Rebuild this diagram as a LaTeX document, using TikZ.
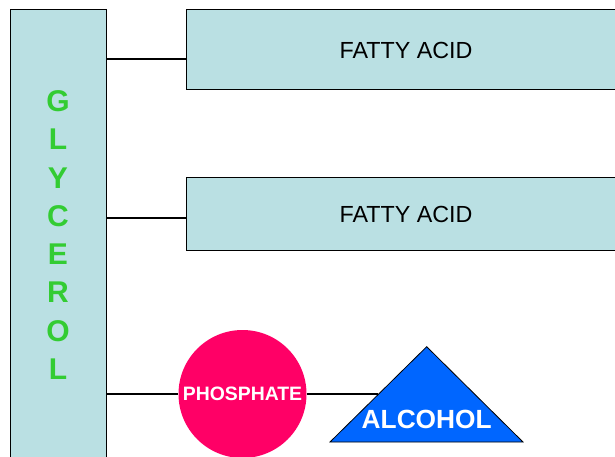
\documentclass[tikz,border=0pt]{standalone}
\usepackage{fontspec}
\setmainfont{Liberation Sans}
\usetikzlibrary{calc}
\definecolor{boxfill}{RGB}{186,224,227}
\definecolor{glygreen}{RGB}{51,204,51}
\definecolor{phospink}{RGB}{255,0,102}
\definecolor{alcblue}{RGB}{0,102,255}
\tikzset{
    barbox/.style={draw, fill=boxfill, line width=1pt, inner sep=0pt},
    fabox/.style={barbox, minimum width=440pt, font=\fontsize{23.3}{27}\selectfont},
    bond/.style={line width=1.5pt},
}
\begin{document}
\begin{tikzpicture}[x=1pt, y=-1pt]
    \useasboundingbox (0,0) rectangle (615,457);
    % glycerol backbone
    \node[barbox, minimum width=96pt, minimum height=470pt] (glycerol) at (58,245) {};
    \node[text=glygreen, font=\fontsize{30}{38.3}\selectfont\bfseries, align=center] (letters) at (58,235) {G\\L\\Y\\C\\E\\R\\O\\L};
    % fatty acids
    \node[fabox, minimum height=80pt] (fa1) at (406,50) {FATTY ACID};
    \node[fabox, minimum height=72pt] (fa2) at (406,214) {FATTY ACID};
    \coordinate (j1) at (106,59);
    \coordinate (j2) at (106,218);
    \draw[bond] (j1) -- (j1 -| fa1.west);
    \draw[bond] (j2) -- (j2 -| fa2.west);
    % phosphate and alcohol
    \node[circle, fill=phospink, minimum size=128pt, inner sep=0pt, text=white, font=\fontsize{19.4}{22}\selectfont\bfseries] (phos) at (242.5,394) {PHOSPHATE};
    \coordinate (tl) at (330,442);
    \coordinate (tt) at (426.7,346.7);
    \coordinate (tr) at (523,442);
    \draw[fill=alcblue, line width=0.8pt] (tl) -- (tt) -- (tr) -- cycle;
    \node[text=white, font=\fontsize{26.3}{30}\selectfont\bfseries] (alcohol) at (426.7,419) {ALCOHOL};
    \coordinate (alcin) at ($(tl)!0.5!(tt)$);
    \draw[bond] (j1 |- phos.west) -- (phos.west);
    \draw[bond] (phos.east) -- (phos.east -| alcin);
\end{tikzpicture}
\end{document}
